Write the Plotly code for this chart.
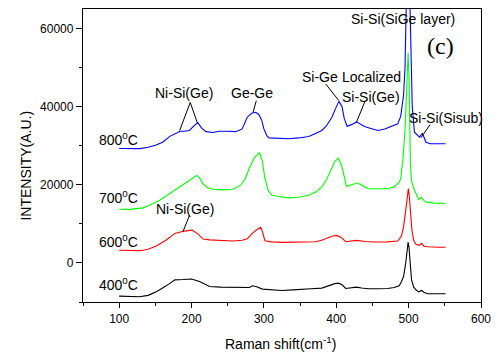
import plotly.graph_objects as go

# ---------------- data ----------------
x_400 = [100,110,120,128,140,152,165,177,188,200,211,218,225,240,256,270,280,284,290,298,310,325,340,352,365,380,391,398,403,408,413,420,428,435,444,458,471,480,487,490,493,496,498,499.3,500.5,502,504,507,510,514,518,521,526,535,551]
y_400 = [-8500,-8600,-8650,-8650,-8300,-7300,-5860,-4330,-4250,-4100,-4760,-5400,-6030,-6200,-6200,-6300,-6280,-5860,-6100,-6700,-6900,-7050,-6900,-6700,-6600,-6450,-5690,-5300,-5180,-5600,-6540,-6400,-6200,-6400,-6620,-6600,-6540,-6300,-5860,-4800,-3480,0,4200,5350,4000,0,-4330,-6200,-6880,-7400,-7050,-7500,-7900,-7900,-7900]

x_600 = [100,115,129,140,152,165,177,190,201,209,216,225,234,257,270,277,284,290,295.5,298,301.4,310,325,350,371,380,389,395,400.5,407,413,420,428,440,453,470,485,490,493,496,498.5,499.6,501,502.5,504.5,507,510,515,518,521,526,540,551]
y_600 = [3230,3100,3140,3500,4400,5860,7560,8150,8400,7390,6110,5900,5860,5600,5800,6200,7560,8500,9100,8000,5690,5400,5270,5300,5440,5800,6450,6900,7050,6540,5440,5600,5780,5500,5350,5400,5600,6800,9250,13500,18000,19030,17000,12500,8400,5800,4760,4500,5020,4300,4160,4000,4000]

x_700 = [100,115,133,145,156,167,179,188,195,201,207,211,215.5,222,229,243,257,268,274,279.5,287,294,298,301,306,311,320,334,348,362,372,380,387,394,398,403,408,414,420,429,436,444,458,471,480,487,489,492,495,497,499.3,500.5,501.5,502.5,504,508,514,518,521,524,535,551]
y_700 = [13760,13700,14100,15000,16050,17400,18780,20000,20700,21600,22400,21800,20300,19300,18850,18700,18850,19900,21500,24100,27000,28200,26000,22000,18500,17300,17000,16650,16800,17330,18200,19450,21500,24550,26000,26800,24550,19600,19900,20460,19800,19030,19000,19000,19500,20700,21500,26250,34000,42000,53800,48000,36000,25000,21000,18600,16230,16740,16000,15620,15300,15200]

x_800 = [100,115,129,140,151,160,170,178,184,190,197,203,208.6,214,220,230,238,250,261,270,277,283,288.6,293,297,300,304,307,320,334,348,362,372,380,386,394,399,403.7,408,411,415,421,428,434,439,450,458,467,477,485,489,491,493,495,497,498.5,499.5,500.5,502,503.5,505,508,512,515,519,524,530,551]
y_800 = [29300,29200,29250,29600,30200,30900,32400,33100,33700,33700,33900,35000,35900,34500,33600,33400,33700,33700,33600,34300,37300,38300,38550,38000,36500,34300,32600,32000,31800,31770,32000,32360,33200,33900,35000,37300,39500,41350,40000,37000,35000,35400,36100,35500,34900,34300,33900,34300,35000,35600,37500,39800,43000,50000,64000,80000,92000,85000,65000,48000,40000,33450,32600,32200,33200,30900,30500,30500]

for a, b in [(x_400, y_400), (x_600, y_600), (x_700, y_700), (x_800, y_800)]:
    assert len(a) == len(b), (len(a), len(b))

series_names = ["400<sup>0</sup>C", "600<sup>0</sup>C", "700<sup>0</sup>C", "800<sup>0</sup>C"]
series_colors = ["#000000", "#ff0000", "#00ff00", "#0000ff"]
label_y = [-5430, 5600, 16900, 31850]
label_x = 98.6

x_ticks = [100, 200, 300, 400, 500, 600]
x_tick_text = ["100", "200", "300", "400", "500", "600"]
y_ticks = [0, 20000, 40000, 60000]
y_tick_text = ["0", "20000", "40000", "60000"]

# peak labels: text, x, y
peak_labels = [
    ("Ni-Si(Ge)", 189, 43400),
    ("Ge-Ge", 284, 43400),
    ("Si-Ge", 377.7, 47650),
    ("Localized", 449, 47650),
    ("Si-Si(Ge)", 448.5, 42550),
    ("Si-Si(SiGe layer)", 492.5, 62350),
    ("Si-Si(Sisub)", 551.8, 37100),
    ("Ni-Si(Ge)", 191.5, 13680),
]
# pointer lines: x0, y0, x1, y1
pointers = [
    (198.2, 41100, 183.6, 33900),
    (198.2, 41100, 208.2, 35750),
    (289.5, 41530, 285.0, 38550),
    (385.4, 45800, 403.7, 41530),
    (440.0, 41530, 427.9, 36000),
    (529.8, 35420, 516.9, 32030),
    (197.3, 12230, 188.1, 7980),
]

# ---------------- figure ----------------
fig = go.Figure()
for xs, ys, nm, col in zip([x_400, x_600, x_700, x_800], [y_400, y_600, y_700, y_800], series_names, series_colors):
    fig.add_trace(go.Scatter(x=xs, y=ys, mode="lines", name=nm,
                             line=dict(color=col, width=1.1)))

FONT = "Liberation Sans, Arial, sans-serif"
ann = []
for nm, ly in zip(series_names, label_y):
    ann.append(dict(x=label_x, y=ly, xref="x", yref="y", text=nm, showarrow=False,
                    font=dict(family=FONT, size=14, color="black"), xanchor="center", yanchor="middle"))
for t, lx, ly in peak_labels:
    ann.append(dict(x=lx, y=ly, xref="x", yref="y", text=t, showarrow=False,
                    font=dict(family=FONT, size=14, color="black"), xanchor="center", yanchor="middle"))
ann.append(dict(x=544.6, y=55550, xref="x", yref="y", text="(c)", showarrow=False,
                font=dict(family="Liberation Serif, Times New Roman, serif", size=24, color="black"),
                xanchor="center", yanchor="middle"))
ann.append(dict(x=-0.143, y=0.466, xref="paper", yref="paper", text="INTENSITY(A.U.)", showarrow=False,
                textangle=-90, font=dict(family=FONT, size=14, color="black"), xanchor="center", yanchor="middle"))
ann.append(dict(x=0.497, y=-0.139, xref="paper", yref="paper", text="Raman shift(cm<sup>-1</sup>)", showarrow=False,
                font=dict(family=FONT, size=14, color="black"), xanchor="center", yanchor="middle"))

shapes = [dict(type="line", xref="x", yref="y", x0=a, y0=b, x1=c, y1=d,
               line=dict(color="black", width=1)) for a, b, c, d in pointers]

fig.update_layout(
    width=499, height=353,
    margin=dict(l=83, r=15, t=8, b=51),
    paper_bgcolor="white", plot_bgcolor="white",
    showlegend=False,
    annotations=ann, shapes=shapes,
    xaxis=dict(range=[50, 600], tickvals=x_ticks, ticktext=x_tick_text, ticks="outside", ticklen=5, tickwidth=1,
               tickcolor="black", showline=True, linecolor="black", linewidth=1.3, mirror=True,
               showgrid=False, zeroline=False,
               minor=dict(dtick=50, tick0=50, ticks="outside", ticklen=3, tickcolor="black"),
               tickfont=dict(family=FONT, size=12, color="black")),
    yaxis=dict(range=[-10000, 65000], tickvals=y_ticks, ticktext=y_tick_text, ticks="outside", ticklen=6, tickwidth=1,
               tickcolor="black", showline=True, linecolor="black", linewidth=1.3, mirror=True,
               showgrid=False, zeroline=False,
               minor=dict(dtick=10000, tick0=0, ticks="outside", ticklen=3, tickcolor="black"),
               tickfont=dict(family=FONT, size=12, color="black")),
)

fig.write_html("out.html", config={"displayModeBar": False},
               post_script="document.body.style.margin='0';document.body.style.overflow='hidden';")
